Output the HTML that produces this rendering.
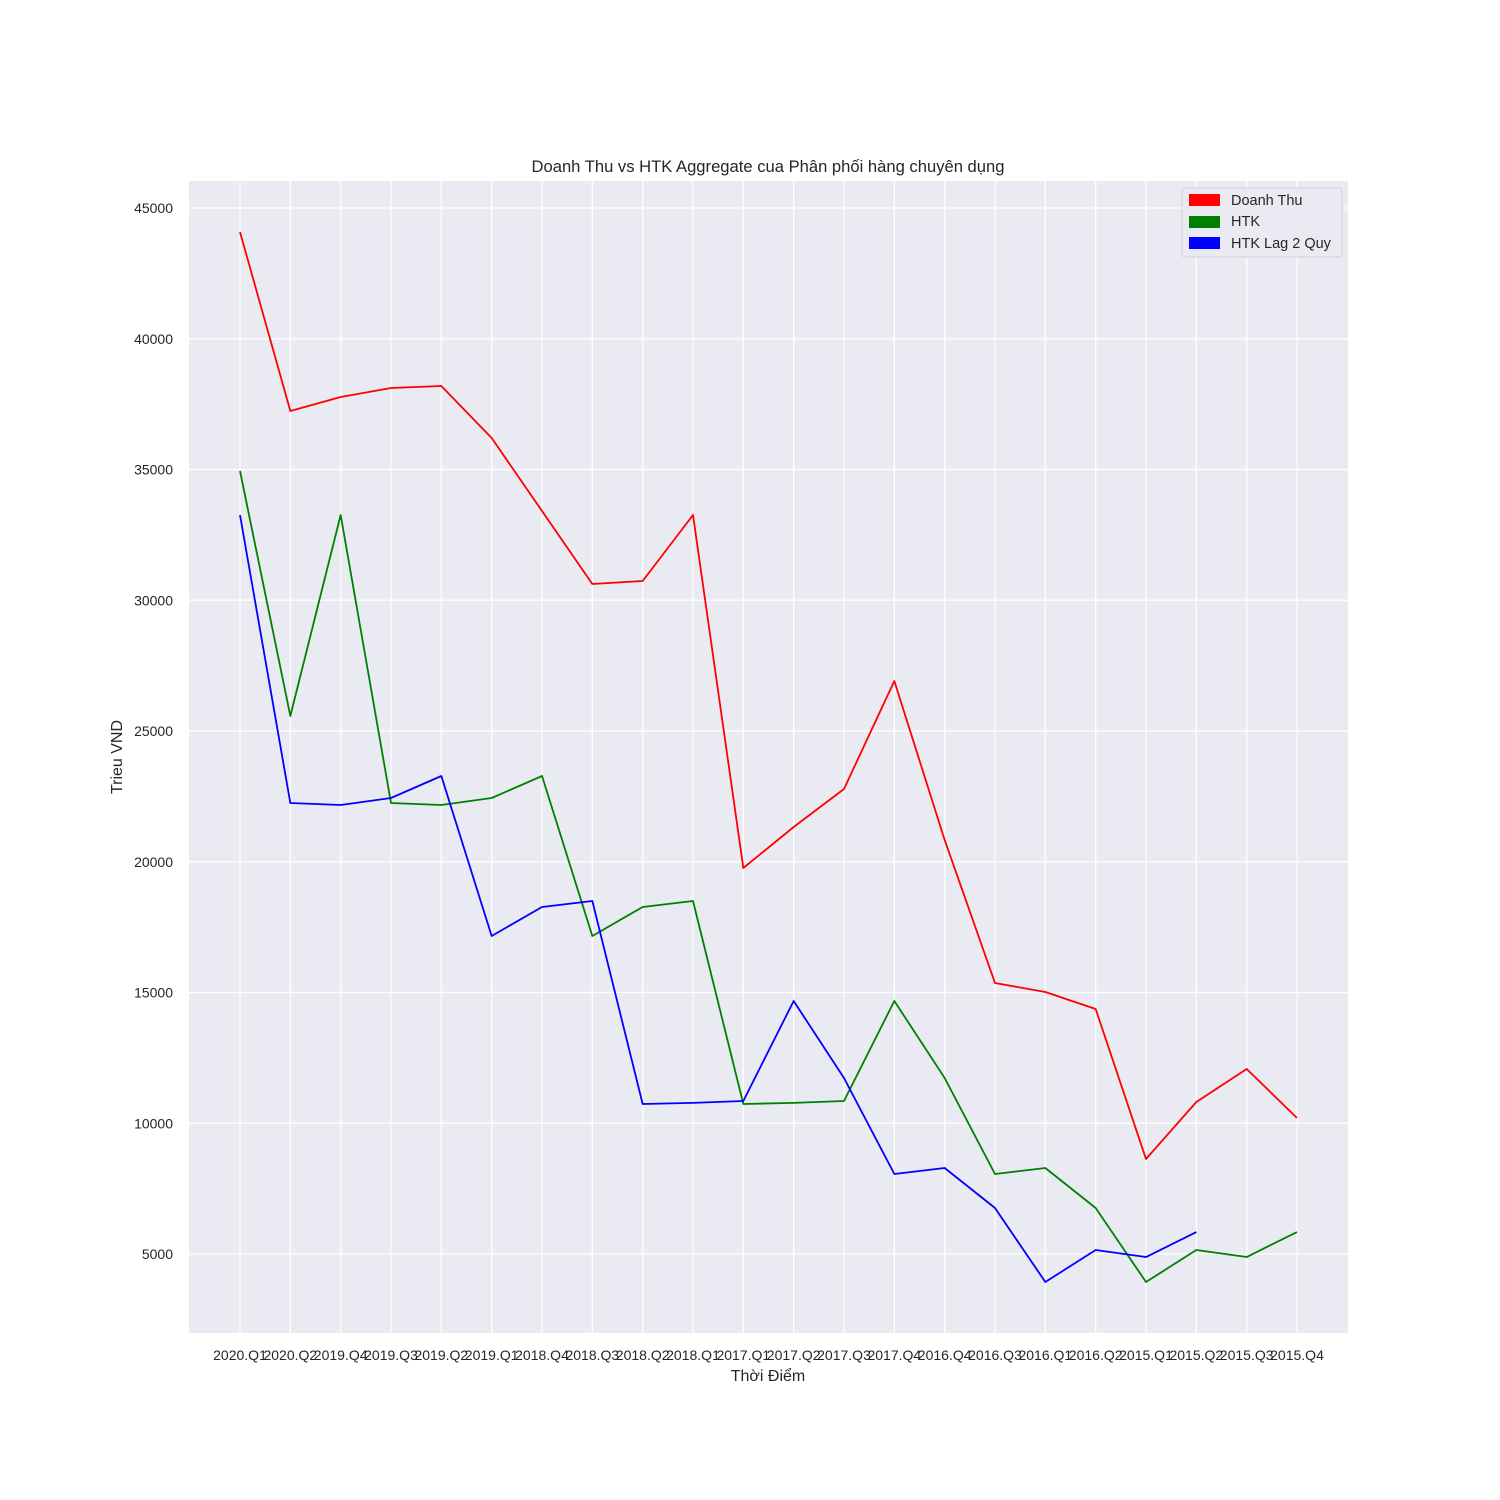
<!DOCTYPE html>
<html><head><meta charset="utf-8"><style>
html,body{margin:0;padding:0;background:#fff;}
svg{display:block;font-family:"Liberation Sans",sans-serif;}
</style></head><body>
<svg id="chart" width="1500" height="1500">
<rect x="189" y="181" width="1159" height="1152" fill="#eaeaf2"/>
<g id="grid"></g><g id="lines"></g><g id="ticks"></g>
<text x="768" y="172" text-anchor="middle" font-size="16.6" fill="#262626">Doanh Thu vs HTK Aggregate cua Phân phối hàng chuyên dụng</text>
<text x="768" y="1381" text-anchor="middle" font-size="16" fill="#262626">Thời Điểm</text>
<text transform="translate(122,757) rotate(-90)" text-anchor="middle" font-size="16" fill="#262626">Trieu VND</text>
<g>
<rect x="1182" y="188" width="160" height="69" rx="3" fill="#eaeaf2" stroke="#d0d0d8"/>
<g><rect x="1189" y="194" width="31" height="12" fill="red"/><text x="1231" y="205" font-size="14.5" fill="#262626">Doanh Thu</text></g>
<g><rect x="1189" y="216" width="31" height="12" fill="green"/><text x="1231" y="226" font-size="14.5" fill="#262626">HTK</text></g>
<g><rect x="1189" y="237" width="31" height="12" fill="blue"/><text x="1231" y="248" font-size="14.5" fill="#262626">HTK Lag 2 Quy</text></g>
</g>
</svg>
<script>
const categories=["2020.Q1","2020.Q2","2019.Q4","2019.Q3","2019.Q2","2019.Q1","2018.Q4","2018.Q3","2018.Q2","2018.Q1","2017.Q1","2017.Q2","2017.Q3","2017.Q4","2016.Q4","2016.Q3","2016.Q1","2016.Q2","2015.Q1","2015.Q2","2015.Q3","2015.Q4"];
const doanhThu=[44082,37237,37772,38117,38193,36205,33413,30621,30736,33260,19761,21329,22782,26912,20832,15363,15019,14369,8633,10813,12075,10201];
const htk=[34943,25574,33260,22247,22170,22438,23279,17161,18270,18499,10736,10780,10851,14675,11731,8059,8289,6759,3929,5153,4885,5841];
const htkLag=[33260,22247,22170,22438,23279,17161,18270,18499,10736,10780,10851,14675,11731,8059,8289,6759,3929,5153,4885,5841];
const yTicks=[5000,10000,15000,20000,25000,30000,35000,40000,45000];
const NS="http://www.w3.org/2000/svg";
function xs(i){return 240+i*(1297-240)/(categories.length-1);}
function ys(v){return 208+(45000-v)*(1254-208)/40000;}
const grid=document.getElementById('grid'),ticks=document.getElementById('ticks'),lines=document.getElementById('lines');
function mk(tag,attrs,parent){const e=document.createElementNS(NS,tag);for(const k in attrs)e.setAttribute(k,attrs[k]);parent.appendChild(e);return e;}
yTicks.forEach(v=>{
 const l=mk('line',{x1:189,x2:1348,y1:ys(v),y2:ys(v),stroke:'#fff','stroke-width':1.2},grid);
 
 
 const t=mk('text',{x:173,y:ys(v)+5,'text-anchor':'end','font-size':14,fill:'#262626'},ticks);
 t.textContent=v;
 
 
});
categories.forEach((c,i)=>{
 const l=mk('line',{x1:xs(i),x2:xs(i),y1:181,y2:1333,stroke:'#fff','stroke-width':1.2},grid);
 
 
 const t=mk('text',{x:xs(i),y:1360,'text-anchor':'middle','font-size':14,fill:'#262626'},ticks);
 t.textContent=c;
 
 
});
function series(arr,color,name){
 const p=mk('polyline',{points:arr.map((v,i)=>xs(i)+','+ys(v)).join(' '),fill:'none',stroke:color,'stroke-width':1.8,'stroke-linejoin':'round'},lines);
 
 
}
series(doanhThu,'red','doanh-thu-line');
series(htk,'green','htk-line');
series(htkLag,'blue','htk-lag-line');
</script>
</body></html>
